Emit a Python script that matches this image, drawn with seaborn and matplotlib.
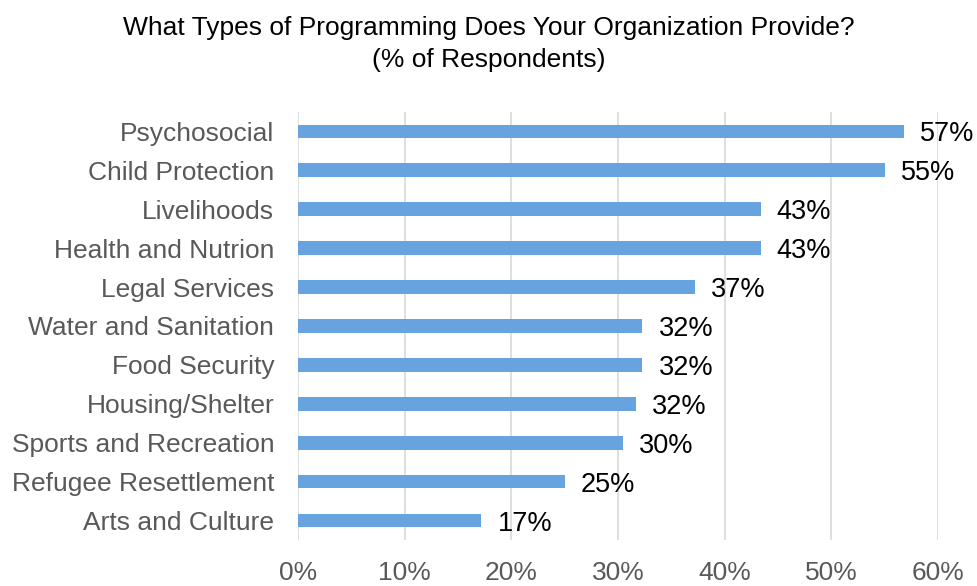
import matplotlib
matplotlib.use("Agg")
import matplotlib.pyplot as plt
import seaborn as sns
import pandas as pd

categories = [
    "Psychosocial", "Child Protection", "Livelihoods", "Health and Nutrion",
    "Legal Services", "Water and Sanitation", "Food Security", "Housing/Shelter",
    "Sports and Recreation", "Refugee Resettlement", "Arts and Culture",
]
percent = [56.8, 55.0, 43.4, 43.4, 37.2, 32.3, 32.3, 31.7, 30.5, 25.0, 17.2]
x_ticks = [0, 10, 20, 30, 40, 50, 60]

df = pd.DataFrame({"category": categories, "percent": percent})

sns.set_theme(style="white")
plt.rcParams["font.family"] = ["Liberation Sans", "DejaVu Sans"]

fig = plt.figure(figsize=(9.77, 5.86), dpi=100)
ax = fig.add_axes([0.305, 0.0785, 0.655, 0.7305])

sns.barplot(data=df, x="percent", y="category", color="#67A3DE",
            saturation=1, width=0.35, linewidth=0, ax=ax, zorder=3)

ax.set_xlim(0, 60)
ax.set_ylim(len(categories) - 0.5, -0.5)
ax.set_xticks(x_ticks)
ax.set_xticklabels([f"{t}%" for t in x_ticks])
ax.grid(axis="x", color="#D9D9D9", linewidth=1.2, zorder=0)
ax.grid(axis="y", visible=False)
for s in ax.spines.values():
    s.set_visible(False)
ax.tick_params(axis="y", length=0, pad=17, labelsize=19, labelcolor="#595959")
ax.tick_params(axis="x", length=0, pad=15, labelsize=19, labelcolor="#595959")
ax.set_xlabel("")
ax.set_ylabel("")

for i, v in enumerate(percent):
    ax.text(v + 1.5, i, f"{round(v)}%", va="center_baseline", ha="left",
            fontsize=19.5, color="black", clip_on=False)

fig.suptitle("What Types of Programming Does Your Organization Provide?\n(% of Respondents)",
             x=0.5, y=0.972, fontsize=19, color="black", linespacing=1.4)

fig.savefig("out.png", dpi=100)
